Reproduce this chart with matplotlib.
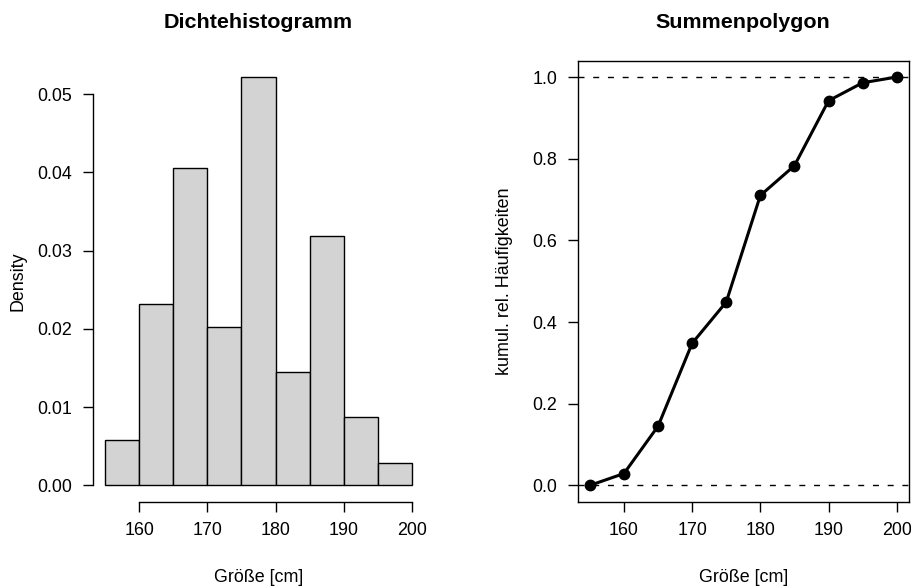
import matplotlib
matplotlib.use("Agg")
import matplotlib.pyplot as plt
import numpy as np

plt.rcParams['font.family'] = ['Liberation Sans', 'DejaVu Sans']

# Data
breaks = [155, 160, 165, 170, 175, 180, 185, 190, 195, 200]
density = [0.0058, 0.0232, 0.0406, 0.0203, 0.0522, 0.0145, 0.0319, 0.0087, 0.0029]
cum_x = [155, 160, 165, 170, 175, 180, 185, 190, 195, 200]
cum_y = [0.0, 0.029, 0.145, 0.348, 0.449, 0.710, 0.783, 0.942, 0.986, 1.0]
hist_xticks = [160, 170, 180, 190, 200]
hist_yticks = [0.00, 0.01, 0.02, 0.03, 0.04, 0.05]
cum_yticks = [0.0, 0.2, 0.4, 0.6, 0.8, 1.0]

W, H = 912, 588
fig = plt.figure(figsize=(W / 100, H / 100), dpi=100)

def px_axes(x0, y0, x1, y1):
    return fig.add_axes([x0 / W, 1 - y1 / H, (x1 - x0) / W, (y1 - y0) / H])

FS = 12.9
TL = 7.2

# Left: histogram
ax1 = px_axes(92.7, 60.7, 424.3, 501.7)
lefts = breaks[:-1]
widths = np.diff(breaks)
ax1.bar(lefts, density, width=widths, align='edge', color='#D3D3D3',
        edgecolor='black', linewidth=1.0)
xr = breaks[-1] - breaks[0]
ax1.set_xlim(breaks[0] - 0.04 * xr, breaks[-1] + 0.04 * xr)
ymax = max(density)
ax1.set_ylim(-0.04 * ymax, ymax * 1.04)
ax1.spines['top'].set_visible(False)
ax1.spines['right'].set_visible(False)
ax1.spines['left'].set_bounds(hist_yticks[0], hist_yticks[-1])
ax1.spines['bottom'].set_bounds(hist_xticks[0], hist_xticks[-1])
ax1.set_xticks(hist_xticks)
ax1.set_xticklabels([str(v) for v in hist_xticks])
ax1.set_yticks(hist_yticks)
ax1.set_yticklabels([f"{v:.2f}" for v in hist_yticks])
for sp in ax1.spines.values():
    sp.set_linewidth(1.0)
ax1.tick_params(axis='both', length=TL, width=1.0, labelsize=FS, direction='out')
ax1.tick_params(axis='x', pad=7.2)
ax1.tick_params(axis='y', pad=7.5)

# Right: cumulative polygon
ax2 = px_axes(577.6, 60.7, 909.0, 501.7)
ax2.axhline(0, color='black', linestyle=(0, (4.3, 6.3)), linewidth=1.0)
ax2.axhline(1, color='black', linestyle=(0, (4.3, 6.3)), linewidth=1.0)
ax2.plot(cum_x, cum_y, color='black', linewidth=2.2, marker='o', markersize=7.5)
ax2.set_xlim(cum_x[0] - 0.04 * xr, cum_x[-1] + 0.04 * xr)
ax2.set_ylim(-0.04, 1.04)
ax2.set_xticks(hist_xticks)
ax2.set_xticklabels([str(v) for v in hist_xticks])
ax2.set_yticks(cum_yticks)
ax2.set_yticklabels([f"{v:.1f}" for v in cum_yticks])
for sp in ax2.spines.values():
    sp.set_linewidth(1.0)
ax2.tick_params(axis='both', length=TL, width=1.0, labelsize=FS, direction='out')
ax2.tick_params(axis='x', pad=7.2)
ax2.tick_params(axis='y', pad=7.5)

# Text
fig.text(258.5 / W, 1 - 22 / H, "Dichtehistogramm", ha='center', va='center',
         fontsize=FS * 1.2, fontweight='bold')
fig.text(743.3 / W, 1 - 22 / H, "Summenpolygon", ha='center', va='center',
         fontsize=FS * 1.2, fontweight='bold')
fig.text(258.5 / W, 1 - 577 / H, "Größe [cm]", ha='center', va='center', fontsize=FS)
fig.text(743.3 / W, 1 - 577 / H, "Größe [cm]", ha='center', va='center', fontsize=FS)
fig.text(18 / W, 1 - 281 / H, "Density", ha='center', va='center', rotation=90, fontsize=FS)
fig.text(505 / W, 1 - 281 / H, "kumul. rel. Häufigkeiten", ha='center', va='center',
         rotation=90, fontsize=FS)

fig.savefig("out.png", dpi=100)
